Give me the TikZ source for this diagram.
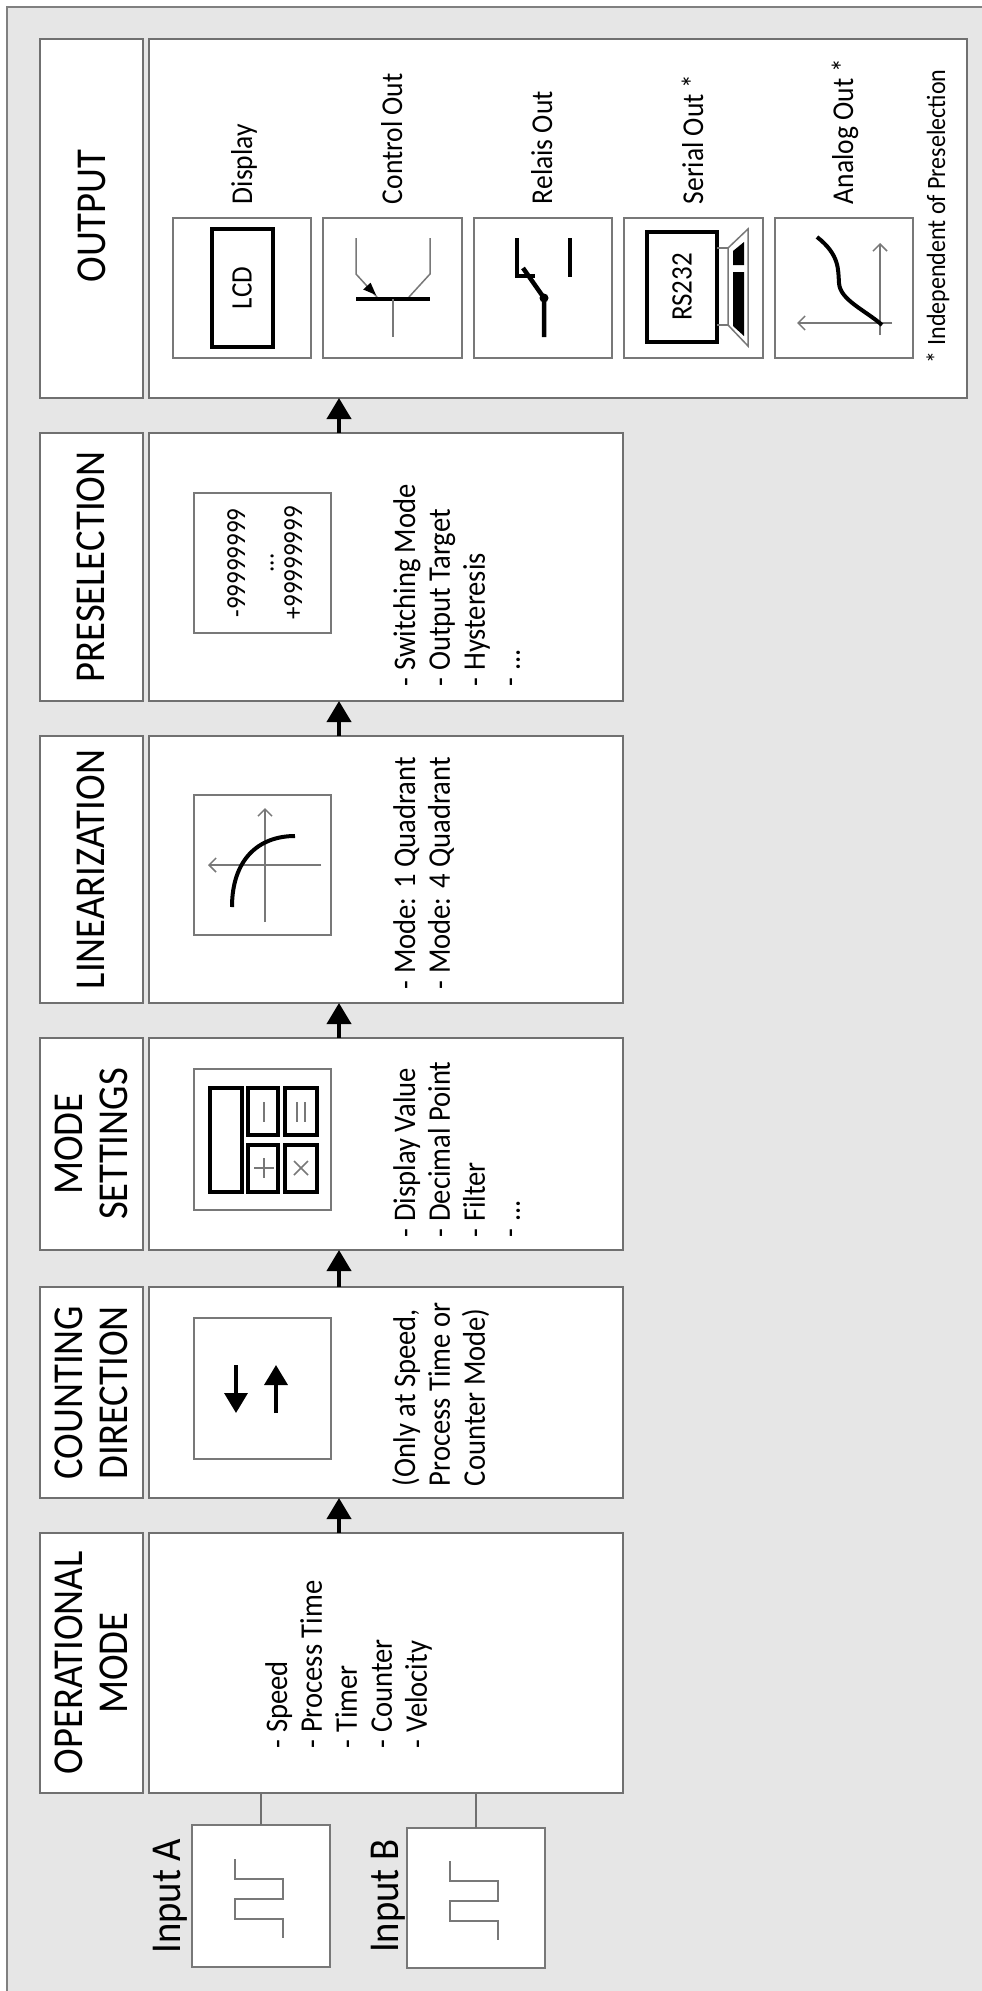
\documentclass[tikz,border=0pt]{standalone}
\usepackage{fontspec}
\setmainfont{Carlito}
\usetikzlibrary{arrows.meta}
\definecolor{bggray}{HTML}{E6E6E6}
\definecolor{framegray}{HTML}{808080}
\definecolor{boxgray}{HTML}{707070}
\definecolor{icongray}{HTML}{787878}
\newcommand\hdfont{\fontsize{38.7}{41.8}\selectfont}
\newcommand\bdfont{\fontsize{28.6}{31.8}\selectfont}
\newcommand\lbfont{\fontsize{27.5}{30}\selectfont}
\newcommand\ftfont{\fontsize{24}{26}\selectfont}
\newcommand\nmfont{\fontsize{25}{26}\selectfont}
\newcommand\icfont{\fontsize{27}{30}\selectfont}
\newcommand\leftlines[1]{\begin{tabular}[t]{@{}l@{}}#1\end{tabular}}
\newcommand\midlines[1]{\begin{tabular}[t]{@{}c@{}}#1\end{tabular}}
\newcommand\mybox[6]{\node[#6, minimum width={(#4-#2)*1pt}, minimum height={(#5-#3)*1pt}] (#1) at ({(#2+#4)/2},{(#3+#5)/2}) {};}
\tikzset{
  outerln/.style={draw=framegray, line width=2pt},
  bx/.style={rectangle, draw=boxgray, fill=white, line width=2pt, inner sep=0pt, outer sep=0pt},
  ibx/.style={rectangle, draw=icongray, fill=white, line width=1.6pt, inner sep=0pt, outer sep=0pt},
  rt/.style={cm={0,1,-1.1,0,(0,0)}, inner sep=0pt, outer sep=0pt},
  iconln/.style={draw=icongray, line width=1.5pt},
  heavy/.style={draw=black, line width=4.5pt},
  flowarr/.style={draw=black, line width=4pt, -{Triangle[width=24pt,length=21pt]}},
  barb/.style={-{Straight Barb[length=7pt,width=14pt]}},
}
\begin{document}
\begin{tikzpicture}[x=1pt,y=-1pt]
\useasboundingbox (0,0) rectangle (982,1991);
\fill[white] (0,0) rectangle (982,1991);
\fill[bggray] (7,7) rectangle (982,1991);
\draw[outerln] (7,1991) -- (7,7) -- (982,7);

% headers
\mybox{hOut}{40}{39}{143}{398}{bx}
\mybox{hPre}{40}{433}{143}{701}{bx}
\mybox{hLin}{40}{736}{143}{1003}{bx}
\mybox{hMod}{40}{1038}{143}{1250}{bx}
\mybox{hCnt}{40}{1287}{143}{1498}{bx}
\mybox{hOp}{40}{1533}{143}{1793}{bx}
% bodies
\mybox{bOut}{149}{39}{967}{398}{bx}
\mybox{bPre}{149}{433}{623}{701}{bx}
\mybox{bLin}{149}{736}{623}{1003}{bx}
\mybox{bMod}{149}{1038}{623}{1250}{bx}
\mybox{bCnt}{149}{1287}{623}{1498}{bx}
\mybox{bOp}{149}{1533}{623}{1793}{bx}
% inputs
\mybox{inA}{192}{1825}{330}{1967}{ibx}
\mybox{inB}{407}{1828}{545}{1968}{ibx}
\draw[draw=boxgray, line width=2pt] (inA.north) -- (inA.north |- bOp.south);
\draw[draw=boxgray, line width=2pt] (inB.north) -- (inB.north |- bOp.south);
\draw[iconln] (235,1859) -- (235,1879) -- (283,1879) -- (283,1899) -- (235,1899) -- (235,1919) -- (283,1919) -- (283,1938);
\begin{scope}[shift={(215,2)}]
\draw[iconln] (235,1859) -- (235,1879) -- (283,1879) -- (283,1899) -- (235,1899) -- (235,1919) -- (283,1919) -- (283,1938);
\end{scope}

% inner icon boxes
\mybox{iPre}{194}{493}{331}{633}{ibx}
\mybox{iLin}{194}{795}{331}{935}{ibx}
\mybox{iMod}{194}{1069}{331}{1210}{ibx}
\mybox{iCnt}{194}{1318}{331}{1459}{ibx}

% counting arrows
\draw[draw=black, line width=3.5pt, -{Triangle[width=23pt,length=20pt]}] (236,1365) -- (236,1413);
\draw[draw=black, line width=3.5pt, -{Triangle[width=23pt,length=20pt]}] (276,1413) -- (276,1365);

% mode settings calculator
\draw[draw=black, line width=4pt] (210,1088) rectangle (242,1192);
\draw[draw=black, line width=4pt] (248,1088) rectangle (278,1135);
\draw[draw=black, line width=4pt] (285,1088) rectangle (317,1135);
\draw[draw=black, line width=4pt] (248,1145) rectangle (278,1192);
\draw[draw=black, line width=4pt] (285,1145) rectangle (317,1192);
\draw[iconln] (264,1102) -- (264,1122);
\draw[iconln] (297,1102) -- (297,1122);
\draw[iconln] (305,1102) -- (305,1122);
\draw[iconln] (254,1168) -- (274,1168);
\draw[iconln] (264,1158) -- (264,1178);
\draw[iconln] (294,1161) -- (308,1175);
\draw[iconln] (294,1175) -- (308,1161);

% linearization graph
\draw[iconln, barb] (321,865) -- (208,865);
\draw[iconln, barb] (265,922) -- (265,808);
\draw[draw=black, line width=4pt] (232,907) .. controls (232,860) and (258,836) .. (295,836);

% output icon boxes
\mybox{oDisp}{173}{218}{311}{358}{ibx}
\mybox{oCtrl}{323}{218}{462}{358}{ibx}
\mybox{oRel}{474}{218}{612}{358}{ibx}
\mybox{oSer}{624}{218}{763}{358}{ibx}
\mybox{oAna}{775}{218}{913}{358}{ibx}

% display
\draw[draw=black, line width=4.5pt] (212,229) rectangle (273,347);
\node[rt, anchor=center] (tLCD) at (242,288) {\icfont LCD};

% control out (transistor)
\draw[iconln] (356,238) -- (356,274) -- (377,297);
\draw[iconln] (430,238) -- (430,274) -- (409,297);
\draw[draw=black, line width=4pt] (356,299) -- (430,299);
\draw[iconln] (393,299) -- (393,337);
\fill[black] (376,295) -- (370.6,282.7) -- (363.2,289.5) -- cycle;

% relais
\draw[heavy] (517,238) -- (517,276) -- (535,276);
\draw[heavy] (523,268) -- (544,298) -- (544,337);
\fill[black] (544,298) circle (4.5);
\draw[heavy] (570,238) -- (570,277);

% serial
\draw[heavy] (647,232) rectangle (717,342);
\node[rt, anchor=center] (tRS) at (682,287) {\icfont RS232};
\draw[iconln] (717,248) -- (728,248);
\draw[iconln] (717,325) -- (728,325);
\draw[iconln] (728,248) -- (748,229) -- (748,346) -- (728,325) -- cycle;
\fill[black] (733,251) -- (744,242) -- (744,265) -- (733,265) -- cycle;
\fill[black] (733,272) -- (744,272) -- (744,336) -- (733,326) -- cycle;

% analog
\draw[iconln, barb] (880,335) -- (880,243);
\draw[iconln, barb] (892,323) -- (797,323);
\draw[draw=black, line width=4pt] (817,237) .. controls (840,255) and (838,270) .. (839,283) .. controls (840,300) and (865,310) .. (882,325);

% header texts
\node[rt, anchor=base] (tOut) at (105,216) {\hdfont OUTPUT};
\node[rt, anchor=base] (tPre) at (104,567) {\hdfont PRESELECTION};
\node[rt, anchor=base] (tLin) at (104,869.5) {\hdfont LINEARIZATION};
\node[rt, anchor=base] (tMod) at (82,1144) {\hdfont\midlines{MODE\\SETTINGS}};
\node[rt, anchor=base] (tCnt) at (82,1392.5) {\hdfont\midlines{COUNTING\\DIRECTION}};
\node[rt, anchor=base] (tOp) at (82,1663) {\hdfont\midlines{OPERATIONAL\\MODE}};

% body texts
\node[rt, anchor=base west] (lOp) at (287,1748) {\bdfont\leftlines{- Speed\\- Process Time\\- Timer\\- Counter\\- Velocity}};
\node[rt, anchor=base west] (lCnt) at (415,1486) {\bdfont\leftlines{(Only at Speed,\\Process Time or\\Counter Mode)}};
\node[rt, anchor=base west] (lMod) at (415,1237) {\bdfont\leftlines{- Display Value\\- Decimal Point\\- Filter\\- ...}};
\node[rt, anchor=base west] (lLin) at (415,989) {\bdfont\leftlines{- Mode: 1 Quadrant\\- Mode: 4 Quadrant}};
\node[rt, anchor=base west] (lPre) at (415,686) {\bdfont\leftlines{- Switching Mode\\- Output Target\\- Hysteresis\\- ...}};
\node[rt, anchor=base] (nums) at (245,563) {\nmfont\midlines{-99999999\\...\\+99999999}};

% input labels
\node[rt, anchor=base] (tInA) at (180,1896) {\hdfont Input A};
\node[rt, anchor=base] (tInB) at (398,1896) {\hdfont Input B};

% output labels
\node[rt, anchor=base west] (tDisp) at (252,204) {\lbfont Display};
\node[rt, anchor=base west] (tCtrl) at (402,204) {\lbfont Control Out};
\node[rt, anchor=base west] (tRel) at (552,204) {\lbfont Relais Out};
\node[rt, anchor=base west] (tSer) at (703,204) {\lbfont Serial Out *};
\node[rt, anchor=base west] (tAna) at (853,204) {\lbfont Analog Out *};
\node[rt, anchor=base west] (tFoot) at (945,363) {\ftfont * Independent of Preselection};

% flow arrows
\coordinate (ax) at (339,0);
\draw[flowarr] (bOp.north -| ax) -- (bCnt.south -| ax);
\draw[flowarr] (bCnt.north -| ax) -- (bMod.south -| ax);
\draw[flowarr] (bMod.north -| ax) -- (bLin.south -| ax);
\draw[flowarr] (bLin.north -| ax) -- (bPre.south -| ax);
\draw[flowarr] (bPre.north -| ax) -- (bOut.south -| ax);
\end{tikzpicture}
\end{document}
